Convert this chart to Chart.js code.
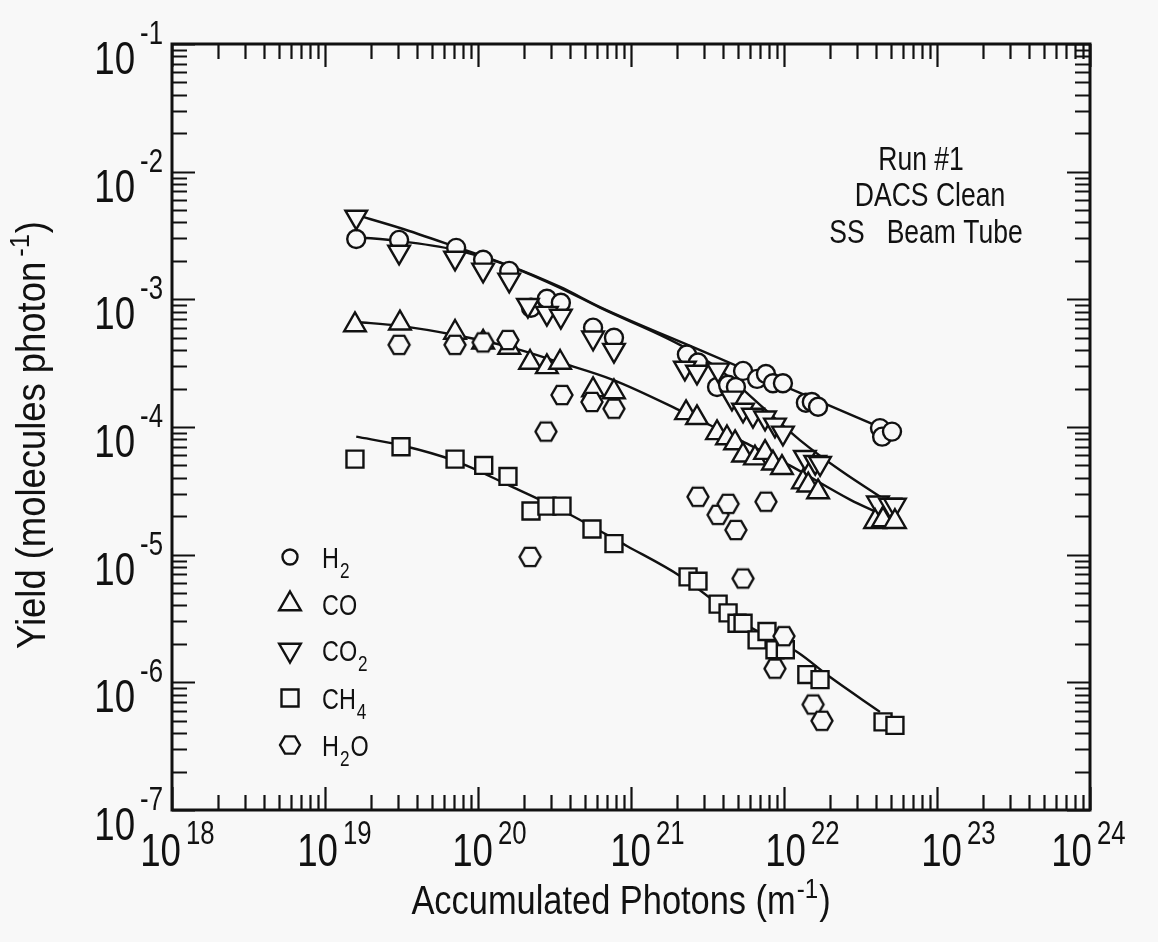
<!DOCTYPE html>
<html>
<head>
<meta charset="utf-8">
<script src="https://cdn.jsdelivr.net/npm/chart.js@4.4.1/dist/chart.umd.min.js"></script>
<style>
  html, body { margin: 0; padding: 0; background: #f8f8f8; }
  #wrap { width: 1158px; height: 942px; }
</style>
</head>
<body>
<div id="wrap"><canvas id="chart" width="1158" height="942"></canvas></div>
<script>
const h2X = [1.6e19, 3.05e19, 7.2e19, 1.08e20, 1.6e20, 2.22e20, 2.82e20, 3.48e20, 5.65e20, 7.74e20, 2.32e21, 2.74e21, 3.65e21, 4.31e21, 4.85e21, 5.4e21, 6.67e21, 7.62e21, 8.47e21, 9.84e21, 1.39e22, 1.52e22, 1.67e22, 4.24e22, 4.38e22, 5.08e22];
const h2Y = [2.97e-3, 2.92e-3, 2.53e-3, 2.04e-3, 1.67e-3, 8.6e-4, 1.01e-3, 9.4e-4, 6.0e-4, 5.0e-4, 3.7e-4, 3.2e-4, 2.06e-4, 2.14e-4, 2.06e-4, 2.75e-4, 2.38e-4, 2.6e-4, 2.2e-4, 2.2e-4, 1.55e-4, 1.57e-4, 1.44e-4, 9.8e-5, 8.4e-5, 9.2e-5];

const coX = [1.57e19, 3.09e19, 7.08e19, 1.08e20, 1.6e20, 2.19e20, 2.82e20, 3.44e20, 5.65e20, 7.74e20, 2.29e21, 2.7e21, 3.65e21, 4.24e21, 4.79e21, 5.4e21, 6.46e21, 7.52e21, 8.47e21, 9.7e21, 1.33e22, 1.44e22, 1.67e22, 3.94e22, 4.44e22, 5.31e22];
const coY = [6.3e-4, 6.5e-4, 5.5e-4, 4.6e-4, 4.2e-4, 3.2e-4, 2.96e-4, 3.2e-4, 1.95e-4, 1.88e-4, 1.29e-4, 1.18e-4, 9.0e-5, 8.2e-5, 7.5e-5, 6.0e-5, 5.7e-5, 6.3e-5, 5.2e-5, 4.8e-5, 3.7e-5, 3.5e-5, 3.1e-5, 1.81e-5, 1.87e-5, 1.81e-5];

const co2X = [1.6e19, 3.05e19, 7.08e19, 1.08e20, 1.6e20, 2.12e20, 2.82e20, 3.48e20, 5.65e20, 7.74e20, 2.25e21, 2.7e21, 3.71e21, 4.57e21, 5.4e21, 6.27e21, 7.52e21, 8.73e21, 9.84e21, 1.37e22, 1.6e22, 1.72e22, 4.11e22, 4.93e22, 5.31e22];
const co2Y = [4.42e-3, 2.35e-3, 2.11e-3, 1.70e-3, 1.42e-3, 9.0e-4, 7.8e-4, 7.4e-4, 5.0e-4, 4.0e-4, 2.9e-4, 2.7e-4, 2.8e-4, 1.69e-4, 1.36e-4, 1.24e-4, 1.18e-4, 1.04e-4, 9.0e-5, 5.8e-5, 5.3e-5, 5.2e-5, 2.55e-5, 2.45e-5, 2.45e-5];

const ch4X = [1.57e19, 3.14e19, 7.08e19, 1.09e20, 1.57e20, 2.22e20, 2.82e20, 3.54e20, 5.56e20, 7.74e20, 2.36e21, 2.74e21, 3.71e21, 4.31e21, 4.93e21, 5.4e21, 6.67e21, 7.74e21, 8.73e21, 1.02e22, 1.41e22, 1.72e22, 4.44e22, 5.31e22];
const ch4Y = [5.6e-5, 7.0e-5, 5.6e-5, 5.0e-5, 4.1e-5, 2.2e-5, 2.4e-5, 2.4e-5, 1.59e-5, 1.22e-5, 6.7e-6, 6.2e-6, 4.1e-6, 3.5e-6, 2.9e-6, 2.9e-6, 2.15e-6, 2.5e-6, 1.8e-6, 1.8e-6, 1.15e-6, 1.05e-6, 4.9e-7, 4.6e-7];

const h2oX = [3.05e19, 7.08e19, 1.08e20, 1.57e20, 2.19e20, 2.78e20, 3.54e20, 5.56e20, 7.74e20, 2.74e21, 3.71e21, 4.31e21, 4.85e21, 5.4e21, 7.62e21, 8.73e21, 1.0e22, 1.55e22, 1.77e22];
const h2oY = [4.4e-4, 4.4e-4, 4.6e-4, 4.8e-4, 9.6e-6, 9.2e-5, 1.78e-4, 1.57e-4, 1.39e-4, 2.84e-5, 2.05e-5, 2.5e-5, 1.56e-5, 6.5e-6, 2.6e-5, 1.28e-6, 2.3e-6, 6.7e-7, 5.0e-7];

// fitted curves drawn through the data
const h2FitX = [1.6e19, 3.09e19, 7.08e19, 1.6e20, 3.44e20, 6.27e20, 2.83e21, 1.27e22, 4.38e22];
const h2FitY = [3.08e-3, 2.86e-3, 2.44e-3, 1.83e-3, 1.25e-3, 8.7e-4, 4.0e-4, 1.85e-4, 9.8e-5];
const co2FitX = [1.6e19, 3.09e19, 6.56e19, 1.6e20, 3.44e20, 6.27e20, 2.09e21, 3.82e21, 6.97e21, 1.27e22, 2.32e22, 5.15e22];
const co2FitY = [4.58e-3, 3.62e-3, 2.67e-3, 1.83e-3, 1.23e-3, 8.6e-4, 4.4e-4, 2.8e-4, 1.49e-4, 7.9e-5, 4.6e-5, 2.45e-5];
const coFitX = [1.6e19, 3.09e19, 7.08e19, 1.6e20, 3.44e20, 7.62e20, 2.19e21, 5.15e21, 1.09e22, 2.7e22, 4.24e22];
const coFitY = [6.65e-4, 6.2e-4, 5.26e-4, 4.24e-4, 3.2e-4, 2.34e-4, 1.31e-4, 7.9e-5, 5.0e-5, 2.7e-5, 2.09e-5];
const ch4FitX = [1.6e19, 3.14e19, 7.08e19, 1.62e20, 3.6e20, 9.4e20, 2.09e21, 5.82e21, 1.22e22, 2.0e22, 4.24e22];
const ch4FitY = [8.4e-5, 7.2e-5, 5.43e-5, 3.46e-5, 2.2e-5, 1.17e-5, 6.82e-6, 2.77e-6, 1.73e-6, 1.10e-6, 5.87e-7];

const xDecades = [18, 19, 20, 21, 22, 23, 24];
const yDecades = [-7, -6, -5, -4, -3, -2, -1];
const legendNames = [['H', '2', ''], ['CO', '', ''], ['CO', '2', ''], ['CH', '4', ''], ['H', '2', 'O']];
const notes = ['Run #1', 'DACS Clean', 'SS   Beam Tube'];

const INK = '#111';
const PAPER = '#f8f8f8';
const FONT = '"Liberation Sans", Arial, sans-serif';
const SQ = 0.78; // squeeze to mimic the condensed face

function zip(xs, ys) { return xs.map((x, i) => ({ x: x, y: ys[i] })); }

function hexagon(r, lw) {
    const c = document.createElement('canvas');
    const s = Math.ceil(2 * r + 2 * lw + 2);
    c.width = s; c.height = s;
    const g = c.getContext('2d');
    g.beginPath();
    for (let i = 0; i < 6; i++) {
        const a = Math.PI / 3 * i;
        const px = s / 2 + r * Math.cos(a), py = s / 2 + r * Math.sin(a);
        if (i === 0) g.moveTo(px, py); else g.lineTo(px, py);
    }
    g.closePath();
    g.fillStyle = PAPER; g.fill();
    g.lineWidth = lw; g.strokeStyle = INK; g.stroke();
    return c;
}
const hexBig = hexagon(10.5, 2.4);

function markers(label, xs, ys, style, radius, rotation) {
    return {
        label: label, data: zip(xs, ys), showLine: false, order: 1,
        pointStyle: style, pointRadius: radius, pointRotation: rotation || 0,
        pointBorderWidth: 2.4, pointBorderColor: INK, pointBackgroundColor: PAPER
    };
}
function fit(label, xs, ys) {
    return {
        label: label, data: zip(xs, ys), showLine: true, order: 10,
        borderColor: INK, borderWidth: 2.4, pointRadius: 0,
        cubicInterpolationMode: 'monotone'
    };
}

function richWidth(ctx, segs, sq) {
    let w = 0;
    segs.forEach(s => { ctx.font = s.size + 'px ' + FONT; w += ctx.measureText(s.t).width * sq + (s.gap || 0); });
    return w;
}
function drawRich(ctx, segs, x, y, align, sq) {
    sq = sq || SQ;
    const total = richWidth(ctx, segs, sq);
    let cx = align === 'center' ? x - total / 2 : align === 'right' ? x - total : x;
    segs.forEach(s => {
        cx += s.gap || 0;
        ctx.font = s.size + 'px ' + FONT;
        const w = ctx.measureText(s.t).width * sq;
        ctx.save();
        ctx.translate(cx, y + (s.dy || 0));
        ctx.scale(sq, 1);
        ctx.textAlign = 'left'; ctx.textBaseline = 'alphabetic';
        ctx.fillText(s.t, 0, 0);
        ctx.restore();
        cx += w;
    });
    return total;
}
function power(e, rise) {
    return [{ t: '10', size: 47 }, { t: String(e), size: 33, dy: -rise, gap: 5 }];
}

function legendMark(ctx, i, x, y) {
    ctx.save();
    ctx.lineWidth = 2.4; ctx.strokeStyle = INK; ctx.fillStyle = PAPER;
    ctx.beginPath();
    if (i === 0) {
        ctx.arc(x, y, 7.5, 0, Math.PI * 2);
    } else if (i === 1 || i === 2) {
        const r = 12.5, d = i === 1 ? 1 : -1;
        for (let k = 0; k < 3; k++) {
            const a = k * 2 * Math.PI / 3;
            const px = x + Math.sin(a) * r, py = y - d * Math.cos(a) * r;
            if (k === 0) ctx.moveTo(px, py); else ctx.lineTo(px, py);
        }
        ctx.closePath();
    } else if (i === 3) {
        ctx.rect(x - 8.5, y - 8.5, 17, 17);
    } else {
        for (let k = 0; k < 6; k++) {
            const a = Math.PI / 3 * k;
            const px = x + 10 * Math.cos(a), py = y + 10 * Math.sin(a);
            if (k === 0) ctx.moveTo(px, py); else ctx.lineTo(px, py);
        }
        ctx.closePath();
    }
    ctx.fill(); ctx.stroke();
    ctx.restore();
}

// per-label nudges, the scan's labels are not placed evenly
const xLabelEnd = [9, 13, 15, 20, 22, 25, 2];

const decor = {
    id: 'decor',
    beforeDraw(chart) {
        const ctx = chart.ctx;
        ctx.save();
        ctx.fillStyle = PAPER;
        ctx.fillRect(0, 0, chart.width, chart.height);
        ctx.restore();
    },
    afterDraw(chart) {
        const ctx = chart.ctx, a = chart.chartArea;
        const xs = chart.scales.x, ys = chart.scales.y;
        ctx.save();
        ctx.strokeStyle = INK; ctx.fillStyle = INK;

        // inward ticks on all four sides
        ctx.lineWidth = 2.2;
        const MAJ = 23, MIN = 15;
        for (let i = 0; i < xDecades.length; i++) {
            const last = i === xDecades.length - 1;
            for (let m = 1; m <= (last ? 1 : 9); m++) {
                const p = Math.round(xs.getPixelForValue(m * Math.pow(10, xDecades[i]))) + 0.5;
                const len = m === 1 ? MAJ : MIN;
                ctx.beginPath();
                ctx.moveTo(p, a.bottom); ctx.lineTo(p, a.bottom - len);
                ctx.moveTo(p, a.top); ctx.lineTo(p, a.top + len);
                ctx.stroke();
            }
        }
        for (let i = 0; i < yDecades.length; i++) {
            const last = i === yDecades.length - 1;
            for (let m = 1; m <= (last ? 1 : 9); m++) {
                const p = Math.round(ys.getPixelForValue(m * Math.pow(10, yDecades[i]))) + 0.5;
                const len = m === 1 ? MAJ : MIN;
                ctx.beginPath();
                ctx.moveTo(a.left, p); ctx.lineTo(a.left + len, p);
                ctx.moveTo(a.right, p); ctx.lineTo(a.right - len, p);
                ctx.stroke();
            }
        }

        // frame
        ctx.lineWidth = 3;
        ctx.strokeRect(a.left, a.top, a.right - a.left, a.bottom - a.top);

        // tick labels
        xDecades.forEach((d, i) => {
            const p = xs.getPixelForValue(Math.pow(10, d));
            ctx.font = '47px ' + FONT;
            const w10 = ctx.measureText('10').width * SQ;
            drawRich(ctx, power(d, 22), p + xLabelEnd[i] - w10, a.bottom + 56, 'left');
        });
        yDecades.forEach(d => {
            const p = ys.getPixelForValue(Math.pow(10, d));
            drawRich(ctx, power(d, 30), 163, p + 30, 'right');
        });

        // axis titles
        drawRich(ctx, [{ t: 'Accumulated Photons (m', size: 40 }, { t: '-1', size: 28, dy: -16, gap: 1 }, { t: ')', size: 40, gap: 1 }],
            621, 914, 'center', 0.86);
        ctx.save();
        ctx.translate(31, 435);
        ctx.rotate(-Math.PI / 2);
        drawRich(ctx, [{ t: 'Yield (molecules photon', size: 40 }, { t: '-1', size: 28, dy: -16, gap: 5 }, { t: ')', size: 40, gap: 1 }],
            0, 14, 'center', 0.91);
        ctx.restore();

        // run notes
        drawRich(ctx, [{ t: notes[0], size: 34 }], 921, 170, 'center');
        drawRich(ctx, [{ t: notes[1], size: 34 }], 930, 206, 'center');
        drawRich(ctx, [{ t: notes[2], size: 34 }], 926, 243, 'center');

        // legend
        const rows = [557, 604, 650, 698, 745];
        legendNames.forEach((n, i) => {
            legendMark(ctx, i, 290, rows[i]);
            const segs = [{ t: n[0], size: 30 }];
            if (n[1]) segs.push({ t: n[1], size: 22, dy: 10, gap: 1 });
            if (n[2]) segs.push({ t: n[2], size: 30, gap: 1 });
            drawRich(ctx, segs, 322, rows[i] + 11, 'left');
        });
        ctx.restore();
    }
};

new Chart(document.getElementById('chart'), {
    type: 'scatter',
    data: {
        datasets: [
            fit('H2 fit', h2FitX, h2FitY),
            fit('CO2 fit', co2FitX, co2FitY),
            fit('CO fit', coFitX, coFitY),
            fit('CH4 fit', ch4FitX, ch4FitY),
            markers('H2O', h2oX, h2oY, hexBig, 10),
            markers('CH4', ch4X, ch4Y, 'rect', 12),
            markers('CO', coX, coY, 'triangle', 12.5),
            markers('CO2', co2X, co2Y, 'triangle', 12.5, 180),
            markers('H2', h2X, h2Y, 'circle', 9)
        ]
    },
    options: {
        responsive: false,
        animation: false,
        events: [],
        layout: { padding: { left: 172, right: 68, top: 44, bottom: 132 } },
        scales: {
            x: { type: 'logarithmic', min: 1e18, max: 1e24, display: false },
            y: { type: 'logarithmic', min: 1e-7, max: 1e-1, display: false }
        },
        plugins: { legend: { display: false }, tooltip: { enabled: false } }
    },
    plugins: [decor]
});
</script>
</body>
</html>
